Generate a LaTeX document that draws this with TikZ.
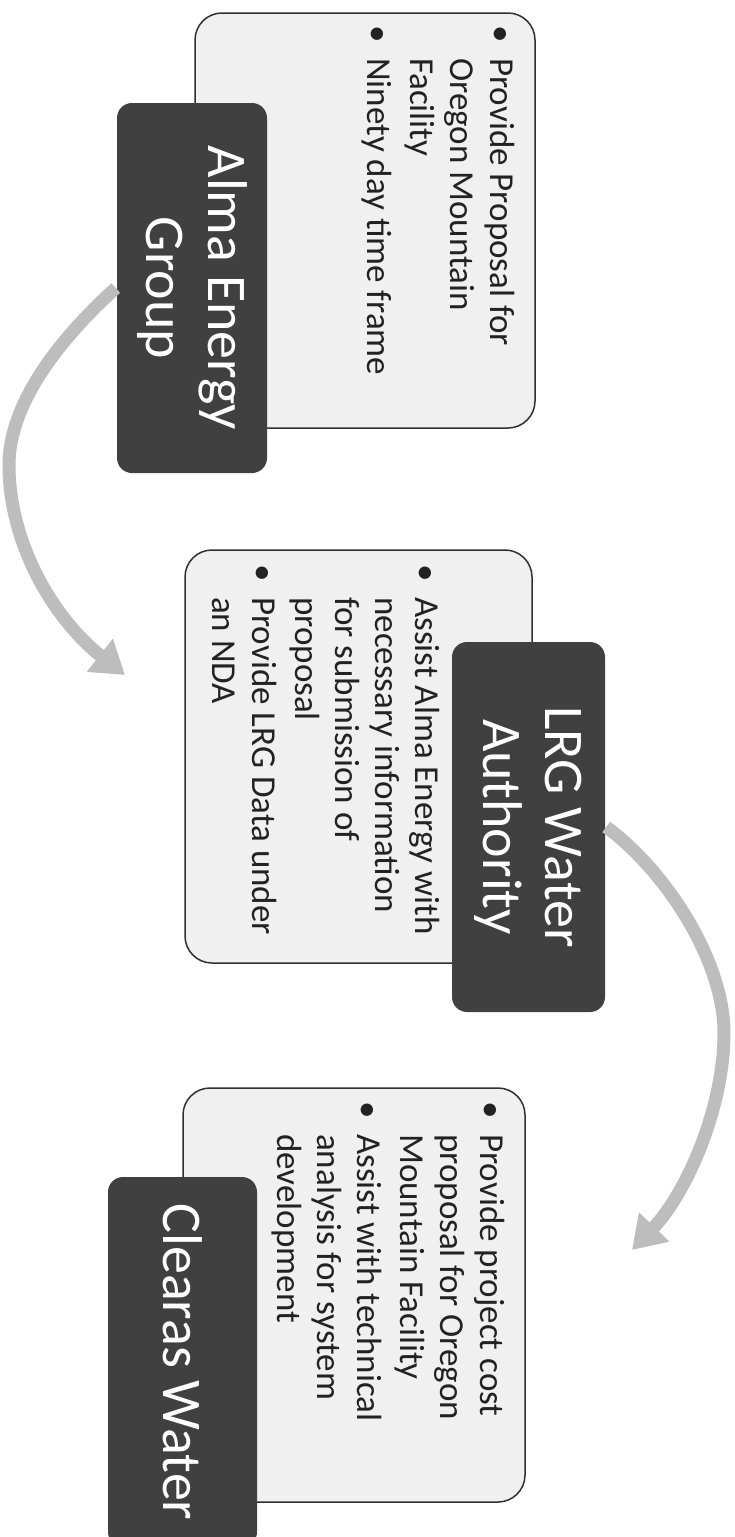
\documentclass[tikz,border=0pt]{standalone}
\usepackage{fontspec}
\setmainfont{Carlito}
\usetikzlibrary{arrows.meta}
\definecolor{lightfill}{HTML}{F0F0F0}
\definecolor{boxline}{HTML}{303030}
\definecolor{darkfill}{HTML}{404040}
\definecolor{arrowgrey}{HTML}{BDBDBD}
\definecolor{bodyink}{HTML}{222222}
\newcommand{\bul}{\makebox[33pt][l]{•}}
\begin{document}
\begin{tikzpicture}[x=1pt,y=-1pt,
  lightbox/.style={draw=boxline, line width=1.5pt, fill=lightfill, rounded corners=27pt, inner sep=0pt},
  darkbox/.style={fill=darkfill, rounded corners=15pt, rotate=-90, inner sep=0pt, text=white, align=center, font=\fontsize{56}{62}\selectfont},
  bodytext/.style={rotate=-90, anchor=north west, inner sep=0pt, text=bodyink, font=\fontsize{35}{40}\selectfont},
  flowarrow/.style={draw=arrowgrey, line width=13pt, -{Triangle[width=40pt,length=32pt]}}
]
\useasboundingbox (0,0) rectangle (735,1537);
\clip (0,0) rectangle (735,1537);
\fill[white] (0,0) rectangle (735,1537);

% light boxes
\node[lightbox, minimum width=340pt, minimum height=415pt] (b1) at (365,220.5) {};
\node[lightbox, minimum width=347pt, minimum height=413pt] (b2) at (358.5,756.5) {};
\node[lightbox, minimum width=342pt, minimum height=414pt] (b3) at (354,1295) {};

% body texts
\node[bodytext] (t1) at (519,25) {\begin{tabular}{@{}l@{}l@{}}
\bul & Provide Proposal for\\
 & Oregon Mountain\\
 & Facility\\[3pt]
\bul & Ninety day time frame
\end{tabular}};
\node[bodytext] (t2) at (444,564) {\begin{tabular}{@{}l@{}l@{}}
\bul & Assist Alma Energy with\\
 & necessary information\\
 & for submission of\\
 & proposal\\[3pt]
\bul & Provide LRG Data under\\
 & an NDA
\end{tabular}};
\node[bodytext] (t3) at (509,1101) {\begin{tabular}{@{}l@{}l@{}}
\bul & Provide project cost\\
 & proposal for Oregon\\
 & Mountain Facility\\[3pt]
\bul & Assist with technical\\
 & analysis for system\\
 & development
\end{tabular}};

% free ends of the arrows
\coordinate (e1) at (125,675);
\coordinate (e2) at (632,1250);

% dark title boxes (rotated: south = page left, north = page right)
\node[darkbox, minimum width=370pt, minimum height=150pt] (alma) at (192,288) {Alma Energy\\Group};
\node[darkbox, minimum width=370pt, minimum height=153pt] (lrg) at (528.5,827) {LRG Water\\Authority};
\node[darkbox, minimum width=370pt, minimum height=149pt] (clearas) at (182.5,1362) {Clearas Water};

% arrows (behind dark boxes)
\begin{scope}[on background layer/.try]
\end{scope}
\draw[flowarrow] ([xshift=-1pt]alma.south) .. controls (65,334) and (9,400) .. (9,465)
  .. controls (9,545) and (55,620) .. (e1);
\draw[flowarrow] ([xshift=1pt]lrg.north) .. controls (665,870) and (724,960) .. (724,1033)
  .. controls (724,1110) and (685,1195) .. (e2);
\end{tikzpicture}
\end{document}
